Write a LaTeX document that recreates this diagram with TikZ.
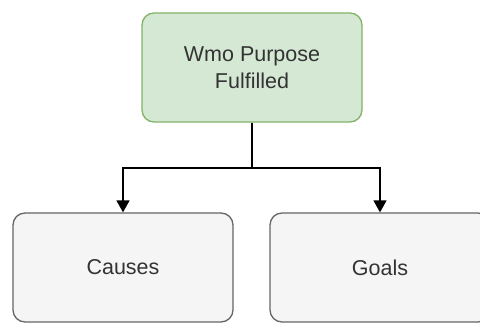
\documentclass[tikz,border=0pt]{standalone}
\usepackage{fontspec}
\setmainfont{Liberation Sans}
\usetikzlibrary{arrows.meta}
\definecolor{greenfill}{HTML}{D5E8D4}
\definecolor{greenline}{HTML}{82B366}
\definecolor{greyfill}{HTML}{F5F5F5}
\definecolor{greyline}{HTML}{666666}
\definecolor{labeltext}{HTML}{333333}
\tikzset{
  card/.style={rectangle, rounded corners=12pt, line width=1.3pt,
    minimum width=220pt, minimum height=109pt, inner sep=0pt,
    align=center, text=labeltext, font=\fontsize{21.5}{27}\selectfont},
  goalcard/.style={card, fill=greenfill, draw=greenline},
  subcard/.style={card, fill=greyfill, draw=greyline},
  link/.style={line width=1.6pt, -{Triangle[length=12pt,width=13pt]}}
}
\begin{document}
\begin{tikzpicture}[x=1pt,y=-1pt]
  \clip (0,0) rectangle (480,323);
  \useasboundingbox (0,0) rectangle (480,323);
  % root and the two branches
  \node[goalcard] (root) at (252,67.5) {Wmo Purpose\\Fulfilled};
  \node[subcard] (causes) at (123,267.5) {Causes};
  \node[subcard] (goals) at (380,267.5) {Goals};
  % elbow connectors through a shared bus line
  \coordinate (bus) at (252,168);
  \draw[link] (root.south) -- (bus) -| (causes.north);
  \draw[link] (root.south) -- (bus) -| (goals.north);
\end{tikzpicture}
\end{document}
